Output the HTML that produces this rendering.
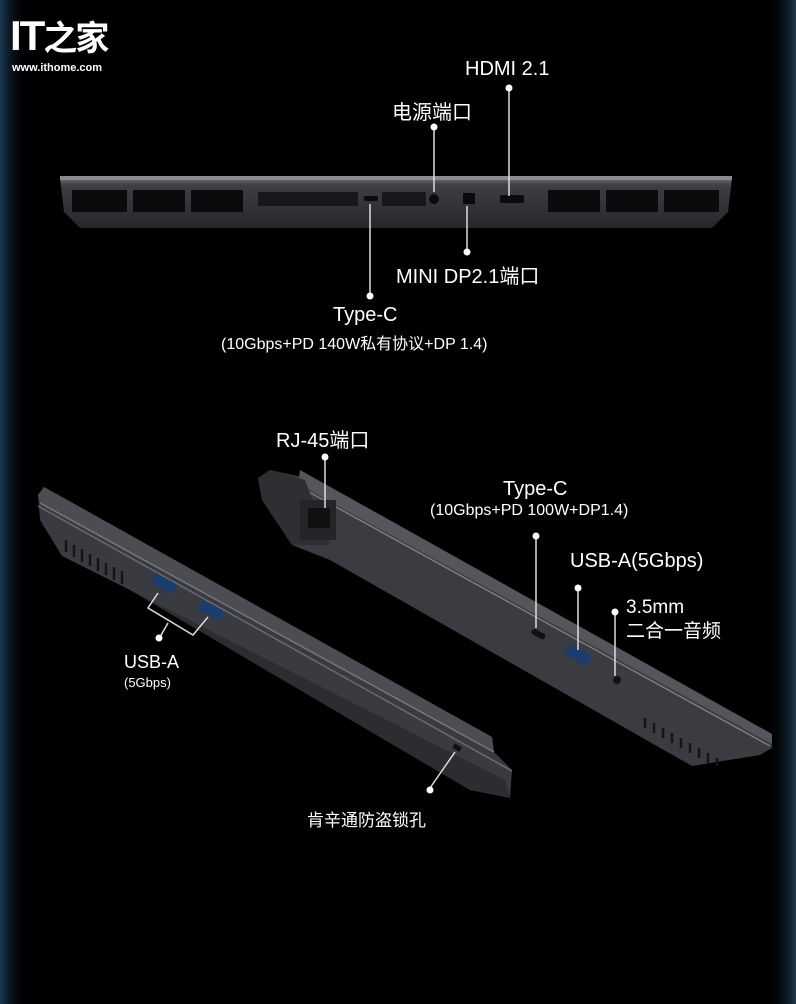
<!DOCTYPE html>
<html><head><meta charset="utf-8"><style>
html,body{margin:0;padding:0;background:#000;}
body{width:796px;height:1004px;position:relative;overflow:hidden;font-family:"Liberation Sans","Noto Sans CJK SC",sans-serif;color:#fff;}
.t{position:absolute;white-space:nowrap;}
</style></head><body>
<svg width="796" height="1004" style="position:absolute;left:0;top:0">
<defs>
<linearGradient id="el" x1="0" x2="1"><stop offset="0" stop-color="#1d3a52"/><stop offset="1" stop-color="#000" stop-opacity="0"/></linearGradient>
<linearGradient id="er" x1="1" x2="0"><stop offset="0" stop-color="#1d3a52"/><stop offset="1" stop-color="#000" stop-opacity="0"/></linearGradient>
<linearGradient id="bar" x1="0" y1="0" x2="0" y2="1"><stop offset="0" stop-color="#6a6c72"/><stop offset="0.15" stop-color="#3d3f45"/><stop offset="1" stop-color="#26272b"/></linearGradient>
</defs>
<rect x="0" y="0" width="28" height="1004" fill="url(#el)"/>
<rect x="768" y="0" width="28" height="1004" fill="url(#er)"/>
<!-- top rear laptop -->
<path d="M60 178 L732 178 L728 212 L712 228 L80 228 L64 212 Z" fill="url(#bar)"/>
<rect x="60" y="176" width="672" height="4" fill="#8a8c92"/>
<g fill="#0b0b0d">
<rect x="72" y="190" width="55" height="22"/><rect x="133" y="190" width="52" height="22"/><rect x="191" y="190" width="52" height="22"/>
<rect x="548" y="190" width="52" height="22"/><rect x="606" y="190" width="52" height="22"/><rect x="664" y="190" width="55" height="22"/>
<rect x="258" y="192" width="100" height="14" opacity="0.7"/><rect x="382" y="192" width="44" height="14" opacity="0.7"/>
<rect x="364" y="196" width="14" height="5" rx="2"/><circle cx="434" cy="199" r="5"/><rect x="463" y="193" width="12" height="11"/><rect x="500" y="195" width="24" height="8" rx="2"/>
</g>
<!-- left laptop -->
<path d="M38 495 L44 487 L492 737 L494 752 L512 770 L510 798 L470 790 L130 590 L62 556 L40 520 Z" fill="#3a3b40"/>
<path d="M44 487 L492 737 L494 752 L40 503 L38 495 Z" fill="#4c4d53"/>
<path d="M40 503 L494 752" stroke="#777" stroke-width="1.5"/>
<path d="M38 506 L512 771" stroke="#6a6b70" stroke-width="1.5"/>
<path d="M130 590 L470 790 L510 798 L505 780 Z" fill="#2c2d31"/>
<rect x="152" y="578" width="24" height="11" fill="#1a3d6e" transform="rotate(29 164 583)"/>
<rect x="199" y="605" width="24" height="11" fill="#1a3d6e" transform="rotate(29 211 610)"/>
<rect x="453" y="745" width="8" height="5" fill="#111" transform="rotate(29 457 748)"/>
<g stroke="#151515" stroke-width="2.5"><path d="M66 540 L66 552 M74 545 L74 557 M82 549 L82 562 M90 554 L90 566 M98 558 L98 571 M106 563 L106 575 M114 567 L114 580 M122 571 L122 584"/></g>
<!-- right laptop -->
<path d="M258 478 L270 470 L302 477 L772 734 L772 748 L760 755 L692 766 L330 560 L292 545 L262 500 Z" fill="#3b3c41"/>
<path d="M300 470 L772 734 L772 744 L298 484 Z" fill="#55565c"/>
<path d="M298 486 L770 746" stroke="#7a7b80" stroke-width="1.5"/>
<path d="M258 478 L270 470 L305 480 L330 545 L292 545 L262 500 Z" fill="#2e2f33"/>
<rect x="300" y="500" width="36" height="40" fill="#242528"/>
<rect x="308" y="508" width="22" height="20" fill="#111"/>
<rect x="531" y="631" width="15" height="6" rx="3" fill="#111" transform="rotate(29 538 634)"/>
<rect x="566" y="649" width="24" height="12" fill="#1a3d6e" transform="rotate(29 578 655)"/>
<circle cx="617" cy="680" r="4" fill="#111"/>
<g stroke="#151515" stroke-width="2.5"><path d="M645 718 L645 728 M654 723 L654 733 M663 728 L663 738 M672 733 L672 743 M681 738 L681 748 M690 743 L690 753 M699 748 L699 758 M708 753 L708 763 M717 758 L717 766"/></g>
<!-- leaders -->
<g stroke="#ddd" stroke-width="1.5" fill="none">
<path d="M509 88 L509 196"/><path d="M434 127 L434 192"/><path d="M467 206 L467 252"/><path d="M370 204 L370 296"/>
<path d="M325 457 L325 508"/><path d="M536 536 L536 628"/><path d="M578 588 L578 650"/><path d="M615 612 L615 676"/>
<path d="M158 593 L148 608 L193 635 L208 617"/><path d="M168 623 L160 637"/>
<path d="M455 752 L430 788"/>
</g>
<g fill="#fff">
<circle cx="509" cy="88" r="3.5"/><circle cx="434" cy="127" r="3.5"/><circle cx="467" cy="252" r="3.5"/><circle cx="370" cy="296" r="3.5"/>
<circle cx="325" cy="457" r="3.5"/><circle cx="536" cy="536" r="3.5"/><circle cx="578" cy="588" r="3.5"/><circle cx="615" cy="612" r="3.5"/>
<circle cx="159" cy="638" r="3.5"/><circle cx="430" cy="790" r="3.5"/>
</g>
</svg>
<div class="t" style="left:10px;top:12px;font-size:42px;font-weight:bold;letter-spacing:-2px;line-height:48px">IT<span style="font-size:34px">之家</span></div>
<div class="t" style="left:12px;top:62px;font-size:11px;font-weight:bold">www.ithome.com</div>
<div class="t" style="left:465px;top:58px;font-size:20px">HDMI 2.1</div>
<div class="t" style="left:392px;top:96px;font-size:20px">电源端口</div>
<div class="t" style="left:396px;top:260px;font-size:20px">MINI DP2.1端口</div>
<div class="t" style="left:333px;top:304px;font-size:20px">Type-C</div>
<div class="t" style="left:221px;top:330px;font-size:16px">(10Gbps+PD 140W私有协议+DP 1.4)</div>
<div class="t" style="left:276px;top:424px;font-size:20px">RJ-45端口</div>
<div class="t" style="left:503px;top:478px;font-size:20px">Type-C</div>
<div class="t" style="left:430px;top:502px;font-size:16px">(10Gbps+PD 100W+DP1.4)</div>
<div class="t" style="left:570px;top:550px;font-size:20px">USB-A(5Gbps)</div>
<div class="t" style="left:626px;top:596px;font-size:19px;line-height:24px">3.5mm<br>二合一音频</div>
<div class="t" style="left:124px;top:652px;font-size:18px">USB-A</div>
<div class="t" style="left:124px;top:675px;font-size:13px">(5Gbps)</div>
<div class="t" style="left:307px;top:806px;font-size:17px">肯辛通防盗锁孔</div>
</body></html>
